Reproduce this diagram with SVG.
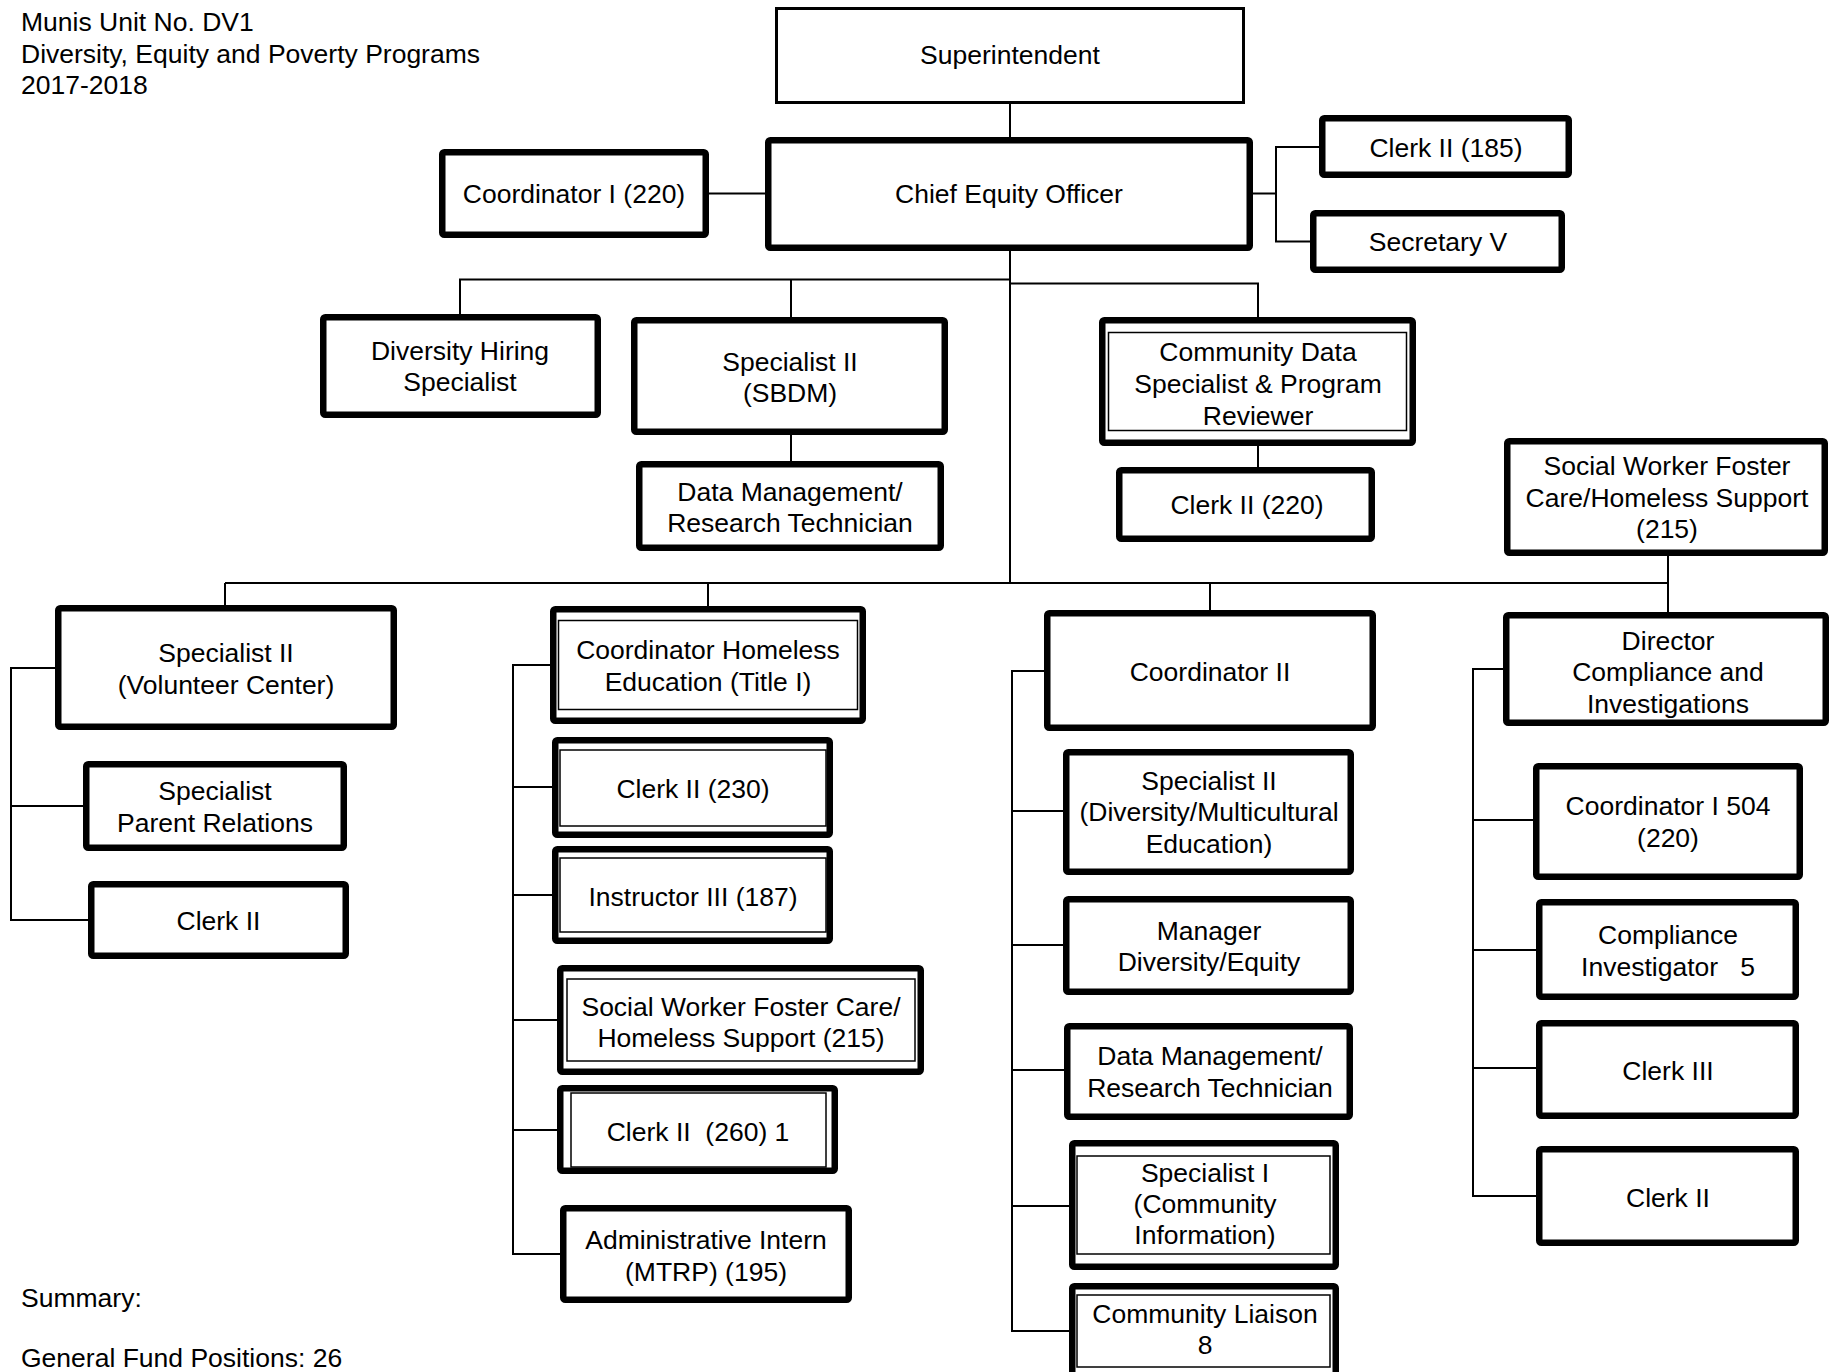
<svg xmlns="http://www.w3.org/2000/svg" width="1829" height="1372" viewBox="0 0 1829 1372">
<style>
.b{fill:#fff;stroke:#000;stroke-width:6.5}
.s{fill:#fff;stroke:#000;stroke-width:3}
.i{fill:none;stroke:#000;stroke-width:1.5}
.c line,.c path{stroke:#000;stroke-width:2;fill:none}
text{font-family:"Liberation Sans",Arial,sans-serif;font-size:26.5px;fill:#000;text-anchor:middle}
.l{text-anchor:start}
</style>
<rect width="1829" height="1372" fill="#fff"/>
<g id="header">
<text class="l" x="21" y="31">Munis Unit No. DV1</text>
<text class="l" x="21" y="63">Diversity, Equity and Poverty Programs</text>
<text class="l" x="21" y="94">2017-2018</text>
<text class="l" x="21" y="1307">Summary:</text>
<text class="l" x="21" y="1367">General Fund Positions: 26</text>
</g>
<g id="connectors" class="c">
<line x1="1010" y1="104" x2="1010" y2="138"/>
<line x1="709" y1="193.5" x2="766" y2="193.5"/>
<line x1="1252" y1="193.5" x2="1276" y2="193.5"/>
<path d="M1319 147H1276V241.5H1310"/>
<line x1="1010" y1="250" x2="1010" y2="583"/>
<path d="M460 314V279.5H1010"/>
<line x1="791" y1="279.5" x2="791" y2="317"/>
<path d="M1010 283.5H1258V318"/>
<line x1="1258" y1="446" x2="1258" y2="467"/>
<line x1="791" y1="435" x2="791" y2="461"/>
<line x1="1668" y1="556" x2="1668" y2="612"/>
<line x1="225" y1="583" x2="1668" y2="583"/>
<line x1="225" y1="583" x2="225" y2="605"/>
<line x1="708" y1="583" x2="708" y2="606"/>
<line x1="1210" y1="583" x2="1210" y2="610"/>
<path d="M55 668H11V920H88M11 806H83"/>
<path d="M550 665H513V1254H560M513 787H552M513 895H552M513 1020H557M513 1130H557"/>
<path d="M1044 671H1012V1331H1069M1012 811H1063M1012 945H1063M1012 1070H1064M1012 1206H1069"/>
<path d="M1503 669H1473V1196H1536M1473 820H1533M1473 950H1536M1473 1068H1536"/>
</g>
<g id="superintendent"><rect class="s" x="776.5" y="8.5" width="467" height="94"/><text x="1010" y="64">Superintendent</text></g>
<g id="chief"><rect class="b" x="768.25" y="140.25" width="481.5" height="107.5" rx="2"/><text x="1009" y="203">Chief Equity Officer</text></g>
<g id="coord1"><rect class="b" x="442.25" y="152.25" width="263.5" height="82.5" rx="2"/><text x="574" y="203">Coordinator I (220)</text></g>
<g id="clerk185"><rect class="b" x="1322.25" y="118.25" width="246.5" height="56.5" rx="2"/><text x="1446" y="156.5">Clerk II (185)</text></g>
<g id="secretary"><rect class="b" x="1313.25" y="213.25" width="248.5" height="56.5" rx="2"/><text x="1438" y="251">Secretary V</text></g>
<g id="divhiring"><rect class="b" x="323.25" y="317.25" width="274.5" height="97.5" rx="2"/><text x="460" y="359.5">Diversity Hiring</text><text x="460" y="391">Specialist</text></g>
<g id="sbdm"><rect class="b" x="634.25" y="320.25" width="310.5" height="111.5" rx="2"/><text x="790" y="370.5">Specialist II</text><text x="790" y="402">(SBDM)</text></g>
<g id="datamgmt1"><rect class="b" x="639.25" y="464.25" width="301.5" height="83.5" rx="2"/><text x="790" y="500.5">Data Management/</text><text x="790" y="532">Research Technician</text></g>
<g id="commdata"><rect class="b" x="1102.25" y="320.25" width="310.5" height="122.5" rx="2"/><rect class="i" x="1108.5" y="332.5" width="298" height="98"/><text x="1258" y="361">Community Data</text><text x="1258" y="393">Specialist &amp; Program</text><text x="1258" y="425">Reviewer</text></g>
<g id="clerk220"><rect class="b" x="1119.25" y="470.25" width="252.5" height="68.5" rx="2"/><text x="1247" y="514">Clerk II (220)</text></g>
<g id="socialright"><rect class="b" x="1507.25" y="441.25" width="317.5" height="111.5" rx="2"/><text x="1667" y="475">Social Worker Foster</text><text x="1667" y="506.5">Care/Homeless Support</text><text x="1667" y="538">(215)</text></g>
<g id="volunteer"><rect class="b" x="58.25" y="608.25" width="335.5" height="118.5" rx="2"/><text x="226" y="662">Specialist II</text><text x="226" y="693.5">(Volunteer Center)</text></g>
<g id="parentrel"><rect class="b" x="86.25" y="764.25" width="257.5" height="83.5" rx="2"/><text x="215" y="800">Specialist</text><text x="215" y="831.5">Parent Relations</text></g>
<g id="clerkleft"><rect class="b" x="91.25" y="884.25" width="254.5" height="71.5" rx="2"/><text x="218.5" y="929.5">Clerk II</text></g>
<g id="homeless"><rect class="b" x="553.25" y="609.25" width="309.5" height="111.5" rx="2"/><rect class="i" x="558.5" y="620.5" width="299" height="89"/><text x="708" y="658.5">Coordinator Homeless</text><text x="708" y="690.5">Education (Title I)</text></g>
<g id="clerk230"><rect class="b" x="555.25" y="740.25" width="274.5" height="94.5" rx="2"/><rect class="i" x="560" y="750" width="266" height="76"/><text x="693" y="797.5">Clerk II (230)</text></g>
<g id="instructor"><rect class="b" x="555.25" y="849.25" width="274.5" height="91.5" rx="2"/><rect class="i" x="560" y="858" width="266" height="74"/><text x="693" y="905.5">Instructor III (187)</text></g>
<g id="socialmid"><rect class="b" x="560.25" y="968.25" width="360.5" height="103.5" rx="2"/><rect class="i" x="567" y="979" width="348" height="82"/><text x="741" y="1015.5">Social Worker Foster Care/</text><text x="741" y="1046.5">Homeless Support (215)</text></g>
<g id="clerk260"><rect class="b" x="560.25" y="1088.25" width="274.5" height="82.5" rx="2"/><rect class="i" x="571" y="1093" width="255" height="74"/><text x="698" y="1141" style="white-space:pre">Clerk II  (260) 1</text></g>
<g id="intern"><rect class="b" x="563.25" y="1208.25" width="285.5" height="91.5" rx="2"/><text x="706" y="1248.5">Administrative Intern</text><text x="706" y="1281">(MTRP) (195)</text></g>
<g id="coord2"><rect class="b" x="1047.25" y="613.25" width="325.5" height="114.5" rx="2"/><text x="1210" y="680.5">Coordinator II</text></g>
<g id="multicultural"><rect class="b" x="1066.25" y="752.25" width="284.5" height="119.5" rx="2"/><text x="1209" y="789.5">Specialist II</text><text x="1209" y="821">(Diversity/Multicultural</text><text x="1209" y="853">Education)</text></g>
<g id="manager"><rect class="b" x="1066.25" y="899.25" width="284.5" height="92.5" rx="2"/><text x="1209" y="940">Manager</text><text x="1209" y="971">Diversity/Equity</text></g>
<g id="datamgmt2"><rect class="b" x="1067.25" y="1026.25" width="282.5" height="90.5" rx="2"/><text x="1210" y="1065">Data Management/</text><text x="1210" y="1096.5">Research Technician</text></g>
<g id="spec1"><rect class="b" x="1072.25" y="1143.25" width="263.5" height="123.5" rx="2"/><rect class="i" x="1077" y="1156" width="253" height="98"/><text x="1205" y="1181.5">Specialist I</text><text x="1205" y="1213">(Community</text><text x="1205" y="1243.5">Information)</text></g>
<g id="liaison"><rect class="b" x="1072.25" y="1286.25" width="263.5" height="100" rx="2"/><rect class="i" x="1077" y="1295" width="253" height="72"/><text x="1205" y="1323">Community Liaison</text><text x="1205" y="1354">8</text></g>
<g id="director"><rect class="b" x="1506.25" y="615.25" width="319.5" height="107.5" rx="2"/><text x="1668" y="649.5">Director</text><text x="1668" y="681">Compliance and</text><text x="1668" y="712.5">Investigations</text></g>
<g id="coord504"><rect class="b" x="1536.25" y="766.25" width="263.5" height="110.5" rx="2"/><text x="1668" y="814.5">Coordinator I 504</text><text x="1668" y="847">(220)</text></g>
<g id="investigator"><rect class="b" x="1539.25" y="902.25" width="256.5" height="94.5" rx="2"/><text x="1668" y="943.5">Compliance</text><text x="1668" y="975.5" style="white-space:pre">Investigator   5</text></g>
<g id="clerk3"><rect class="b" x="1539.25" y="1023.25" width="256.5" height="92.5" rx="2"/><text x="1668" y="1079.5">Clerk III</text></g>
<g id="clerkright"><rect class="b" x="1539.25" y="1149.25" width="256.5" height="93.5" rx="2"/><text x="1668" y="1206.5">Clerk II</text></g>
</svg>
